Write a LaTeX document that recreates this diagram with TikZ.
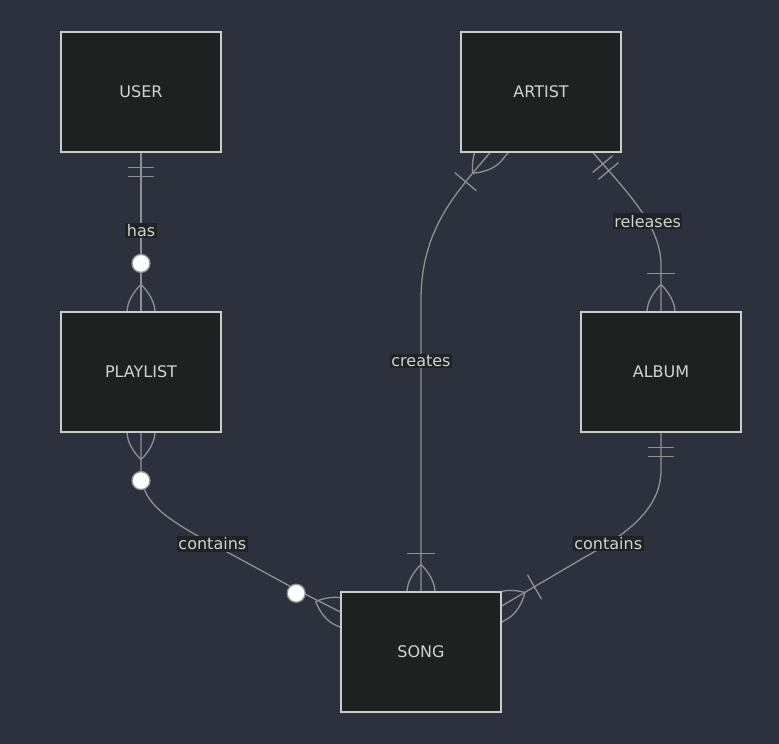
\documentclass[tikz,border=0pt]{standalone}
\usepackage{fontspec}
\setmainfont{DejaVu Sans}
\usetikzlibrary{calc}

\definecolor{bgcol}{RGB}{44,49,61}
\definecolor{entfill}{RGB}{31,32,32}
\definecolor{entline}{RGB}{204,204,204}
\definecolor{relline}{RGB}{145,145,145}
\definecolor{lblfill}{RGB}{33,34,36}
\definecolor{txtcol}{RGB}{210,210,210}

\pgfdeclarelayer{canvas}
\pgfdeclarelayer{links}
\pgfsetlayers{canvas,links,main}

% the two curved prongs of a crow's foot, entity at the origin
\newcommand\crowprongs{%
  \draw[rel] (-27,0) .. controls (-19,8) and (-9,14) .. (1,14) -- (16,14);
  \draw[rel] (-27,0) .. controls (-19,-8) and (-9,-14) .. (1,-14) -- (16,-14);
}

\tikzset{
  entity/.style={draw=entline, fill=entfill, line width=1.2pt, minimum width=160pt, minimum height=120pt,
    text=txtcol, font=\fontsize{16}{19}\selectfont},
  rel/.style={draw=relline, line width=1.3pt},
  rellabel/.style={fill=lblfill, text=txtcol, inner sep=1.5pt, font=\fontsize{16}{19}\selectfont},
  onlyone/.pic={
    \draw[rel] (-15,-13) -- (-15,13);
    \draw[rel] (-24,-13) -- (-24,13);
  },
  oneormore/.pic={
    \crowprongs
    \draw[rel] (-38,-14) -- (-38,14);
  },
  zeromany/.pic={
    \crowprongs
    \draw[rel, fill=white] (-48,0) circle (9);
  },
}

\begin{document}
\begin{tikzpicture}[x=1pt, y=-1pt]
  \begin{pgfonlayer}{canvas}
    \fill[bgcol] (0,0) rectangle (779,744);
  \end{pgfonlayer}
  \useasboundingbox (0,0) rectangle (779,744);

  % entities
  \node[entity] (user) at (141,92) {USER};
  \node[entity] (artist) at (541,92) {ARTIST};
  \node[entity] (playlist) at (141,372) {PLAYLIST};
  \node[entity] (album) at (661,372) {ALBUM};
  \node[entity] (song) at (421,652) {SONG};

  \begin{pgfonlayer}{links}
    % user -- playlist
    \draw[rel] (user.south) -- (playlist.north) node[rellabel, pos=0.49] {has};
    \path (user.south) pic[rotate=90] {onlyone};
    \path (playlist.north) pic[rotate=-90] {zeromany};

    % playlist -- song
    \draw[rel] (playlist.south) -- (141,470) .. controls (141,500) and (160,515) .. (205,540)
      -- (297,590) node[rellabel, pos=0.08] {contains} -- ([yshift=40pt]song.west);
    \path (playlist.south) pic[rotate=90] {zeromany};
    \path ([yshift=40pt]song.west) pic[rotate=-23] {zeromany};

    % artist -- song
    \draw[rel] ([xshift=-51pt]artist.south) .. controls (455,194) and (421,230) .. (421,300)
      -- (song.north) node[rellabel, pos=0.21] {creates};
    \path ([xshift=-51pt]artist.south) pic[rotate=50] {oneormore};
    \path (song.north) pic[rotate=-90] {oneormore};

    % artist -- album
    \draw[rel] ([xshift=52pt]artist.south) .. controls (625,190) and (661,225) .. (661,265)
      node[rellabel, pos=0.62] {releases} -- (album.north);
    \path ([xshift=52pt]artist.south) pic[rotate=130] {onlyone};
    \path (album.north) pic[rotate=-90] {oneormore};

    % album -- song
    \draw[rel] (album.south) -- (661,470) .. controls (661,510) and (625,535) .. (585,557)
      node[rellabel, pos=0.8] {contains} -- ([yshift=46pt]song.east);
    \path (album.south) pic[rotate=90] {onlyone};
    \path ([yshift=46pt]song.east) pic[rotate=210] {oneormore};
  \end{pgfonlayer}
\end{tikzpicture}
\end{document}
